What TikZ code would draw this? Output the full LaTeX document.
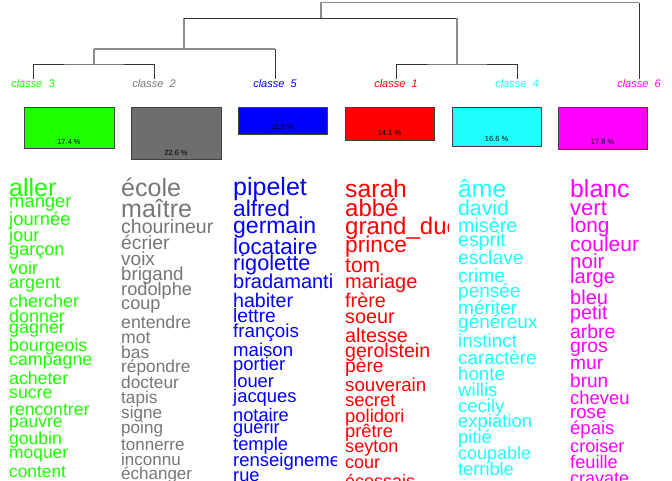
\documentclass[tikz,border=0pt]{standalone}
\usepackage{fontspec}
\setmainfont{Liberation Sans}
\usepackage{tikz}
\usetikzlibrary{positioning}

\definecolor{clgreen}{RGB}{30,255,0}
\definecolor{clgray}{RGB}{118,118,118}
\definecolor{clbox}{RGB}{110,110,110}
\definecolor{clblue}{RGB}{0,0,255}
\definecolor{clred}{RGB}{255,0,0}
\definecolor{clcyan}{RGB}{30,255,255}
\definecolor{clmag}{RGB}{255,0,255}

\begin{document}
\begin{tikzpicture}[x=1pt, y=-1pt,
    link/.style={draw=black!80, line width=0.9pt},
    linkg/.style={draw=black!45, line width=1.4pt},
    leaf/.style={anchor=base, inner sep=0pt, font=\fontsize{11}{11}\selectfont\itshape},
    bar/.style={rectangle, draw=black!75, line width=0.6pt},
    pct/.style={inner sep=0pt, font=\fontsize{7.5}{7.5}\selectfont},
    word/.style={anchor=base west, inner sep=0pt}
]
\useasboundingbox (0,0) rectangle (672,480);

% Leaves of the tree: class labels
\node[leaf, text=clgreen] (l3) at (33,87) {classe\ \ 3};
\node[leaf, text=clgray] (l2) at (154,87) {classe\ \ 2};
\node[leaf, text=clblue] (l5) at (275,87) {classe\ \ 5};
\node[leaf, text=clred] (l1) at (396,87) {classe\ \ 1};
\node[leaf, text=clcyan] (l4) at (517,87) {classe\ \ 4};
\node[leaf, text=clmag] (l6) at (639,87) {classe\ \ 6};

% Joins of the tree
\coordinate (t3) at (33,79);
\coordinate (t2) at (154,79);
\coordinate (t5) at (275,79);
\coordinate (t1) at (396,79);
\coordinate (t4) at (517,79);
\coordinate (t6) at (639,79);
\coordinate (j32) at (94,64);
\coordinate (j325) at (184,49);
\coordinate (j14) at (457,64);
\coordinate (j32514) at (321,18.3);
\coordinate (jroot) at (321,2.7);

% Tree branches
\draw[link] (t3) |- (j32) -| (t2);
\draw[link] (t1) |- (j14) -| (t4);
\draw[linkg] (j32) -- (j32 |- j325);
\draw[linkg] (j32 |- j325) -- (j325) -- (j325 -| t5);
\draw[link] (j325 -| t5) -- (t5);
\draw[linkg] (j325) -- (j325 |- j32514);
\draw[link] (j325 |- j32514) -- (j32514) -- (j32514 -| j14);
\draw[linkg] (j32514 -| j14) -- (j14);
\draw[linkg] (j32514) -- (jroot) -- (jroot -| t6);
\draw[link] (jroot -| t6) -- (t6);

% Class sizes
\draw[bar, fill=clgreen] (24,107) rectangle (114,148);
\node[pct] (p3) at (69,141.5) {17.4 \%};
\draw[bar, fill=clbox] (131,107) rectangle (221,159);
\node[pct] (p2) at (176,153) {22.6 \%};
\draw[bar, fill=clblue] (238,107) rectangle (327,134);
\node[pct] (p5) at (282.5,127) {11.5 \%};
\draw[bar, fill=clred] (345,107) rectangle (434,140);
\node[pct] (p1) at (389.5,133) {14.1 \%};
\draw[bar, fill=clcyan] (452,107) rectangle (541,146);
\node[pct] (p4) at (496.5,139) {16.6 \%};
\draw[bar, fill=clmag] (558,107) rectangle (647,149);
\node[pct] (p6) at (602.5,142) {17.8 \%};

% Word lists, one column per class
\begin{scope}
\clip (0,0) rectangle (112,480);
\foreach \fs/\by/\wtxt [count=\i] in {25/196/aller, 18.4/207/manger, 18.4/225/journée,
    18.2/241/jour, 18.1/255/garçon, 18/274/voir, 18/288/argent, 18/307/chercher,
    17.9/322/donner, 17.9/333/gagner, 17.8/351/bourgeois, 17.8/365/campagne,
    17.7/384/acheter, 17.7/398/sucre, 17.6/415/rencontrer, 17.5/427/pauvre,
    17.5/444/goubin, 17.4/458/moquer, 17.3/477/content}
  \node[word, text=clgreen, font=\fontsize{\fs}{\fs}\selectfont] (g\i) at (9,\by) {\wtxt};
\end{scope}

\begin{scope}
\clip (112,0) rectangle (224,480);
\foreach \fs/\by/\wtxt [count=\i] in {25/196/école, 25/217/maître, 19.5/233/chourineur,
    19.3/249/écrier, 19/265/voix, 18.7/280/brigand, 18.2/295/rodolphe, 18.1/309/coup,
    17.7/328/entendre, 17.6/343/mot, 17.5/358/bas, 17.3/372/répondre, 17.3/388/docteur,
    17.2/403/tapis, 17.1/418/signe, 17.1/433/poing, 17/450/tonnerre, 17/465/inconnu,
    17/479/échanger}
  \node[word, text=clgray, font=\fontsize{\fs}{\fs}\selectfont] (k\i) at (121,\by) {\wtxt};
\end{scope}

\begin{scope}
\clip (224,0) rectangle (336,480);
\foreach \fs/\by/\wtxt [count=\i] in {25/195/pipelet, 22.7/216/alfred, 23/233/germain,
    22.3/254/locataire, 21.7/270/rigolette, 20/288/bradamanti, 19.6/307/habiter,
    19.2/322/lettre, 18.8/337/françois, 18.6/356/maison, 18.4/370/portier,
    18.4/387/louer, 18.4/402/jacques, 18.2/421/notaire, 18.2/433/guérir,
    18.3/450/temple, 18.5/466/renseignement, 18.3/481/rue}
  \node[word, text=clblue, font=\fontsize{\fs}{\fs}\selectfont] (b\i) at (233,\by) {\wtxt};
\end{scope}

\begin{scope}
\clip (336,0) rectangle (448,480);
\foreach \fs/\by/\wtxt [count=\i] in {24.7/197/sarah, 24/216/abbé, 24/234/grand\_duc,
    22.7/252/prince, 21/272/tom, 20/288/mariage, 19.8/307/frère, 19.8/323/soeur,
    19.8/342/altesse, 19.6/357/gerolstein, 19.2/372/père, 18.7/391/souverain,
    18.5/406/secret, 18.4/422/polidori, 18.3/437/prêtre, 18.1/452/seyton,
    18/468/cour, 18/487/écossais}
  \node[word, text=clred, font=\fontsize{\fs}{\fs}\selectfont] (r\i) at (345,\by) {\wtxt};
\end{scope}

\begin{scope}
\clip (448,0) rectangle (560,480);
\foreach \fs/\by/\wtxt [count=\i] in {24.7/197/âme, 21.2/215/david, 19.7/232/misère,
    19.5/246/esprit, 19.3/264/esclave, 19.2/282/crime, 19/297/pensée, 19/314/mériter,
    19/328/généreux, 18.9/347/instinct, 18.8/364/caractère, 18.7/380/honte,
    18.6/396/willis, 18.5/412/cecily, 18.5/427/expiation, 18.4/443/pitié,
    18/459/coupable, 18.2/475/terrible}
  \node[word, text=clcyan, font=\fontsize{\fs}{\fs}\selectfont] (c\i) at (458,\by) {\wtxt};
\end{scope}

\begin{scope}
\clip (560,0) rectangle (672,480);
\foreach \fs/\by/\wtxt [count=\i] in {24.8/197/blanc, 22/215/vert, 20.8/232/long,
    21/251/couleur, 20.5/268/noir, 20.2/283/large, 20/304/bleu, 19.8/319/petit,
    19.4/338/arbre, 19.4/352/gros, 19.2/369/mur, 19/387/brun, 18.4/404/cheveu,
    18.6/418/rose, 18.5/434/épais, 18.1/452/croiser, 18.2/468/feuille,
    18/484/cravate}
  \node[word, text=clmag, font=\fontsize{\fs}{\fs}\selectfont] (m\i) at (570,\by) {\wtxt};
\end{scope}
\end{tikzpicture}
\end{document}
